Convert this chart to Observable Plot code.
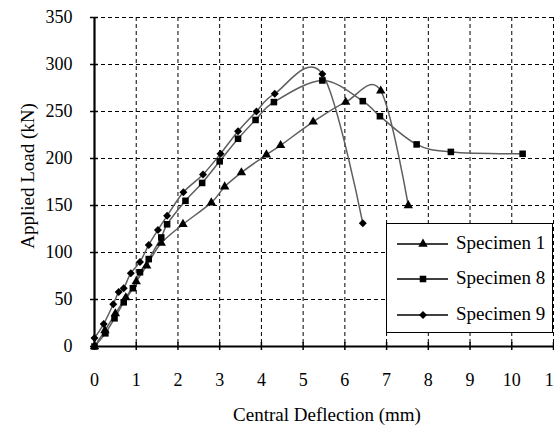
<!DOCTYPE html>
<html><head><meta charset="utf-8">
<script src="https://cdn.jsdelivr.net/npm/d3@7"></script>
<script src="https://cdn.jsdelivr.net/npm/@observablehq/plot@0.6"></script>
<style>
body{margin:0;background:#fff;overflow:hidden;}
#wrap{position:relative;width:554px;height:428px;font-family:"Liberation Serif","DejaVu Serif",serif;overflow:hidden;}
#legend{position:absolute;left:386px;top:223px;width:167px;height:110px;border:1px solid #000;background:#fff;box-sizing:border-box;}
.row{position:absolute;left:0;height:20px;width:165px;}
.row svg{position:absolute;left:10px;top:0;}
.row span{position:absolute;left:69px;top:-1px;font-size:19px;line-height:20px;color:#000;white-space:nowrap;font-family:"Liberation Serif","DejaVu Serif",serif;}
svg text{font-family:"Liberation Serif","DejaVu Serif",serif;}
</style></head><body><div id="wrap"></div>
<script>
// ---- data ----
const seriesNames = ["Specimen 1", "Specimen 8", "Specimen 9"];

const spec1X = [0, 0.25, 0.5, 0.75, 1.0, 1.25, 1.6, 2.12, 2.8, 3.12, 3.52, 4.12, 4.46, 5.24, 6.02, 6.86, 7.52];
const spec1Y = [0, 17, 35, 52, 69, 86, 110, 130, 153, 170, 185, 204, 214, 239, 260, 272, 150];

const spec8X = [0, 0.26, 0.48, 0.70, 0.92, 1.09, 1.30, 1.60, 1.74, 2.18, 2.58, 3.0, 3.44, 3.86, 4.30, 5.46, 6.43, 6.84, 7.72, 8.54, 10.26];
const spec8Y = [0, 14, 30, 47, 62, 79, 93, 116, 130, 155, 174, 197, 221, 241, 260, 283, 261, 245, 215, 207, 205];

const spec9X = [0, 0.22, 0.45, 0.58, 0.70, 0.87, 1.09, 1.30, 1.52, 1.74, 2.13, 2.60, 3.02, 3.44, 3.88, 4.32, 5.46, 6.43];
const spec9Y = [9, 24, 45, 58, 62, 78, 90, 108, 124, 139, 164, 183, 205, 229, 250, 269, 290, 131];

const xTicks = [0, 1, 2, 3, 4, 5, 6, 7, 8, 9, 10, 11];
const xTickLabels = ["0", "1", "2", "3", "4", "5", "6", "7", "8", "9", "10", "11"];
const yTicks = [0, 50, 100, 150, 200, 250, 300, 350];
const yTickLabels = ["0", "50", "100", "150", "200", "250", "300", "350"];
const xTitle = "Central Deflection (mm)";
const yTitle = "Applied Load (kN)";

// ---- build ----
const toRows = (xs, ys) => xs.map((x, i) => ({x, y: ys[i]}));
const d1 = toRows(spec1X, spec1Y);
const d8 = toRows(spec8X, spec8Y);
const d9 = toRows(spec9X, spec9Y);
const symbols = ["triangle", "square", "diamond2"];
const symR = [3.5, 3.7, 3.6];
const lineColor = "#5e5e5e";
const grid = {stroke: "#000", strokeWidth: 1, strokeDasharray: "4,3", strokeOpacity: 1};

const chart = Plot.plot({
  width: 554, height: 428,
  marginLeft: 94, marginRight: 1, marginTop: 17, marginBottom: 82,
  style: {fontFamily: "Liberation Serif, DejaVu Serif, serif", fontSize: "18px", background: "#fff", overflow: "hidden"},
  x: {domain: [0, 11]},
  y: {domain: [0, 350]},
  marks: [
    Plot.ruleX(xTicks.filter(d => d > 0), grid),
    Plot.ruleY(yTicks.filter(d => d > 0), grid),
    ...[d1, d8, d9].map(d => Plot.line(d, {x: "x", y: "y", curve: "cardinal", stroke: lineColor, strokeWidth: 1.5})),
    ...[d1, d8, d9].map((d, k) => Plot.dot(d, {x: "x", y: "y", symbol: () => symbols[k], r: symR[k], fill: "#000", stroke: "none"})),
    Plot.ruleX(xTicks, {y1: 0, y2: 0, insetTop: -4, insetBottom: -4, stroke: "#000", strokeWidth: 1.5}),
    Plot.ruleY(yTicks, {x1: 0, x2: 0, insetLeft: -4, insetRight: -4, stroke: "#000", strokeWidth: 1.5}),
    Plot.ruleY([0], {stroke: "#000", strokeWidth: 2.2}),
    Plot.ruleX([0], {stroke: "#000", strokeWidth: 2.2}),
    Plot.axisX(xTicks, {tickSize: 0, tickPadding: 27, tickFormat: d => xTickLabels[xTicks.indexOf(d)], label: null, fontSize: 18}),
    Plot.axisY(yTicks, {tickSize: 0, tickPadding: 22, tickFormat: d => yTickLabels[yTicks.indexOf(d)], label: null, fontSize: 18}),
    Plot.text([xTitle], {frameAnchor: "bottom", lineAnchor: "middle", textAnchor: "middle", dy: 68, dx: 3, fontSize: 19, fill: "#000"}),
    Plot.text([yTitle], {frameAnchor: "left", rotate: -90, textAnchor: "middle", lineAnchor: "middle", dx: -67, dy: -6, fontSize: 19, fill: "#000"})
  ]
});
const wrap = document.getElementById("wrap");
wrap.appendChild(chart);

// ---- legend (inside plot area, as in the reference) ----
const legend = document.createElement("div");
legend.id = "legend";
wrap.appendChild(legend);
const d3sym = [d3.symbolTriangle, d3.symbolSquare, d3.symbolDiamond2];
const rowTops = [10, 45, 81];
seriesNames.forEach((name, k) => {
  const row = document.createElement("div");
  row.className = "row";
  row.style.top = rowTops[k] + "px";
  const svg = d3.create("svg").attr("width", 54).attr("height", 20);
  svg.append("line").attr("x1", 0).attr("x2", 51).attr("y1", 10).attr("y2", 10).attr("stroke", "#000").attr("stroke-width", 1.5);
  svg.append("path").attr("transform", "translate(26,10)")
    .attr("d", d3.symbol(d3sym[k], Math.PI * symR[k] * symR[k])()).attr("fill", "#000");
  row.appendChild(svg.node());
  const span = document.createElement("span");
  span.textContent = name;
  row.appendChild(span);
  legend.appendChild(row);
});
</script>
</body></html>
